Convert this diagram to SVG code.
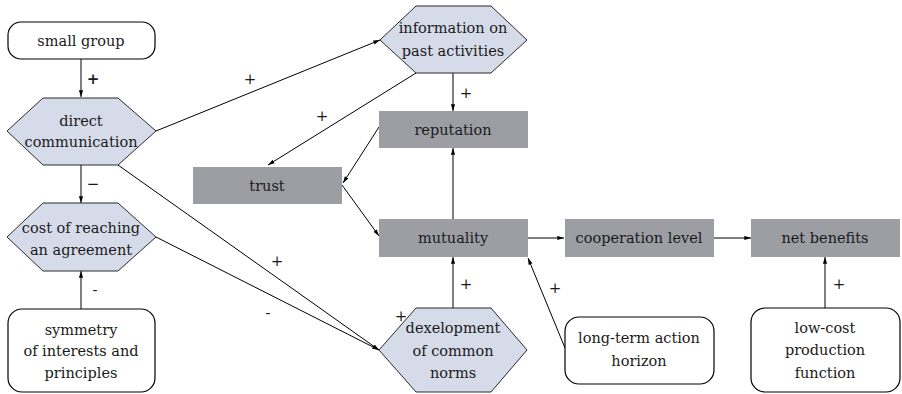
<svg xmlns="http://www.w3.org/2000/svg" width="902" height="394" viewBox="0 0 902 394">
<style>
.t{font-family:"DejaVu Serif","Liberation Serif",serif;font-size:14.5px;fill:#1a1a1a;text-anchor:middle}
.l{font-family:"DejaVu Serif","Liberation Serif",serif;font-size:15px;fill:#1a1a1a;text-anchor:middle}
.hex{fill:#d6dbea;stroke:#2a2a2a;stroke-width:1}
.rb{fill:#fff;stroke:#000;stroke-width:1.2}
.gr{fill:#9c9ea4;stroke:none}
.c{stroke:#000;stroke-width:1;fill:none;marker-end:url(#ah)}
</style>
<defs>
<marker id="ah" viewBox="0 0 8 6" refX="8" refY="3" markerWidth="7" markerHeight="5" markerUnits="userSpaceOnUse" orient="auto">
<path d="M0,0.5 L8,3 L0,5.5 Z" fill="#000"/>
</marker>
</defs>
<g id="connectors">
<line class="c" x1="81" y1="59" x2="81" y2="97"/>
<line class="c" x1="81" y1="165" x2="81" y2="203"/>
<line class="c" x1="81" y1="309" x2="81" y2="271"/>
<line class="c" x1="156" y1="131" x2="380" y2="40"/>
<line class="c" x1="416" y1="73" x2="268" y2="165"/>
<line class="c" x1="453" y1="73" x2="453" y2="111"/>
<line class="c" x1="379" y1="127" x2="343" y2="183"/>
<line class="c" x1="342" y1="185" x2="379" y2="236"/>
<line class="c" x1="453" y1="219" x2="453" y2="148"/>
<line class="c" x1="528" y1="238" x2="564" y2="238"/>
<line class="c" x1="714" y1="238" x2="751" y2="238"/>
<line class="c" x1="118" y1="165" x2="379" y2="350"/>
<line class="c" x1="156" y1="237" x2="379" y2="350"/>
<line class="c" x1="453" y1="308" x2="453" y2="257"/>
<line class="c" x1="565" y1="348" x2="528" y2="258"/>
<line class="c" x1="825" y1="308" x2="825" y2="257"/>
<text class="l" x="93" y="84" font-weight="bold">+</text>
<text class="l" x="93" y="189">−</text>
<text class="l" x="95" y="295">-</text>
<text class="l" x="250" y="84">+</text>
<text class="l" x="322" y="121">+</text>
<text class="l" x="466" y="98">+</text>
<text class="l" x="277" y="266">+</text>
<text class="l" x="268" y="318">-</text>
<text class="l" x="466" y="289">+</text>
<text class="l" x="555" y="293">+</text>
<text class="l" x="839" y="289">+</text>
</g>
<g id="small-group">
<rect class="rb" x="8" y="22" width="147" height="37" rx="13"/>
<text class="t" x="81" y="46">small group</text>
</g>
<g id="direct-communication">
<polygon class="hex" points="7,131 43,98 118,98 156,131 118,165 43,165"/>
<text class="t" x="81" y="126">direct</text>
<text class="t" x="81" y="147">communication</text>
</g>
<g id="cost-agreement">
<polygon class="hex" points="7,237 43,203 118,203 156,237 118,271 43,271"/>
<text class="t" x="81" y="233">cost of reaching</text>
<text class="t" x="81" y="255">an agreement</text>
</g>
<g id="symmetry">
<rect class="rb" x="8" y="309" width="147" height="83" rx="14"/>
<text class="t" x="81" y="335">symmetry</text>
<text class="t" x="81" y="356">of interests and</text>
<text class="t" x="81" y="378">principles</text>
</g>
<g id="information">
<polygon class="hex" points="380,40 416,6 491,6 527,40 491,73 416,73"/>
<text class="t" x="453" y="33">information on</text>
<text class="t" x="453" y="56">past activities</text>
</g>
<g id="reputation">
<rect class="gr" x="379" y="111" width="149" height="37"/>
<text class="t" x="453" y="135">reputation</text>
</g>
<g id="trust">
<rect class="gr" x="193" y="167" width="149" height="37"/>
<text class="t" x="267" y="191">trust</text>
</g>
<g id="mutuality">
<rect class="gr" x="379" y="219" width="149" height="38"/>
<text class="t" x="453" y="243">mutuality</text>
</g>
<g id="cooperation-level">
<rect class="gr" x="565" y="219" width="149" height="38"/>
<text class="t" x="639" y="243">cooperation level</text>
</g>
<g id="net-benefits">
<rect class="gr" x="751" y="219" width="149" height="38"/>
<text class="t" x="825" y="243">net benefits</text>
</g>
<g id="development">
<polygon class="hex" points="379,350 416,308 491,308 527,350 491,392 416,392"/>
<text class="t" x="453" y="333">dexelopment</text>
<text class="t" x="453" y="356">of common</text>
<text class="t" x="453" y="378">norms</text>
<text class="l" x="401" y="321">+</text>
</g>
<g id="long-term">
<rect class="rb" x="565" y="317" width="149" height="67" rx="14"/>
<text class="t" x="639" y="343">long-term action</text>
<text class="t" x="639" y="366">horizon</text>
</g>
<g id="low-cost">
<rect class="rb" x="751" y="308" width="149" height="84" rx="14"/>
<text class="t" x="825" y="333">low-cost</text>
<text class="t" x="825" y="355">production</text>
<text class="t" x="825" y="378">function</text>
</g>
</svg>
